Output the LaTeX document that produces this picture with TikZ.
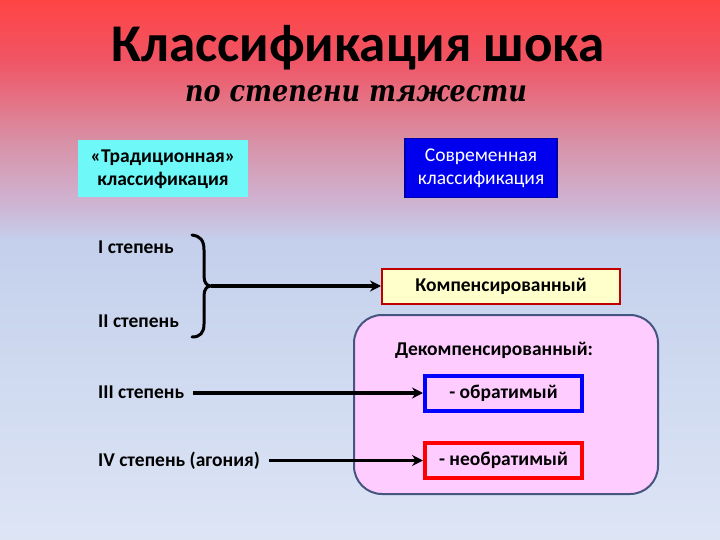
\documentclass[tikz,border=0pt]{standalone}
\usepackage{fontspec}
\setmainfont{Carlito}
\newfontfamily\subfont[FakeStretch=0.85]{DejaVu Serif}
\usetikzlibrary{arrows.meta}
\definecolor{bgA}{HTML}{FF4444}
\definecolor{bgB}{HTML}{F05565}
\definecolor{bgC}{HTML}{D890A5}
\definecolor{bgD}{HTML}{CDB8D8}
\definecolor{bgE}{HTML}{C4D0EC}
\definecolor{bgF}{HTML}{DDE5F5}
\definecolor{cyanbox}{HTML}{6EF8F8}
\definecolor{bluebox}{HTML}{0000EE}
\definecolor{blueedge}{HTML}{0000AA}
\definecolor{yelbox}{HTML}{FFFFCC}
\definecolor{rededge}{HTML}{C00000}
\definecolor{pinkbox}{HTML}{FFCCFF}
\definecolor{slateedge}{HTML}{44557F}
\tikzset{
  boxtext/.style={font=\fontsize{19.5}{23}\selectfont\bfseries, align=center, inner sep=0pt},
  lbl/.style={font=\fontsize{19.5}{23}\selectfont\bfseries, anchor=base west, inner sep=1pt},
  arr/.style={line width=3.5pt, -{Stealth[length=11pt,width=11pt]}},
}
\begin{document}
\begin{tikzpicture}[x=1pt,y=-1pt]
\useasboundingbox (0,0) rectangle (720,540);
% background
\shade[top color=bgA,bottom color=bgB] (0,0) rectangle (720,60.5);
\shade[top color=bgB,bottom color=bgC] (0,60) rectangle (720,140.5);
\shade[top color=bgC,bottom color=bgD] (0,140) rectangle (720,210.5);
\shade[top color=bgD,bottom color=bgE] (0,210) rectangle (720,240.5);
\shade[top color=bgE,bottom color=bgF] (0,240) rectangle (720,540);
% title
\node (title) [anchor=base, font=\fontsize{53}{60}\selectfont\bfseries] at (358,62) {Классификация шока};
\node (sub) [anchor=base, font=\subfont\bfseries\itshape\fontsize{30}{36}\selectfont] at (356,102) {по степени тяжести};
% header boxes
\node (trad) [boxtext, fill=cyanbox, minimum width=170, minimum height=57] at (163,169) {«Традиционная»\\классификация};
\node (modern) [boxtext, fill=bluebox, draw=blueedge, line width=1.5pt, text=white, font=\fontsize{19.5}{23}\selectfont, minimum width=152, minimum height=59] at (481,168) {Современная\\классификация};
% left labels
\node (lab1) [lbl] at (97,253) {I степень};
\node (lab2) [lbl] at (97,327) {II степень};
\node (lab3) [lbl] at (97,398) {III степень};
\node (lab4) [lbl] at (97,466) {IV степень (агония)};
% right side
\node (komp) [boxtext, fill=yelbox, draw=rededge, line width=2pt, minimum width=238, minimum height=35] at (501,286) {Компенсированный};
\node (dek) [boxtext, fill=pinkbox, draw=slateedge, line width=2pt, rounded corners=28pt, minimum width=304, minimum height=179] at (506,404.5) {};
\node (deklab) [boxtext, anchor=base] at (494,355) {Декомпенсированный:};
\node (obr) [boxtext, draw=blue, line width=4pt, minimum width=157, minimum height=35] at (503.5,393) {- обратимый};
\node (neobr) [boxtext, draw=red, line width=4pt, minimum width=157, minimum height=35] at (503.5,460.5) {- необратимый};
% brace
\coordinate (bracetip) at (211,286);
\draw[line width=3pt, line cap=round] (192,235) .. controls (200,236) and (204,240) .. (204,250) -- (204,276) .. controls (204,283) and (207,286) .. (bracetip) .. controls (207,286) and (204,289) .. (204,296) -- (204,324) .. controls (204,333) and (200,337) .. (192,337);
% arrows
\draw[arr] (bracetip) -- (komp.west);
\coordinate (s3) at ([xshift=8pt]lab3.east);
\coordinate (s4) at ([xshift=8pt]lab4.east);
\draw[arr] (s3 |- obr.west) -- (obr.west);
\draw[arr] (s4 |- neobr.west) -- (neobr.west);
\end{tikzpicture}
\end{document}
